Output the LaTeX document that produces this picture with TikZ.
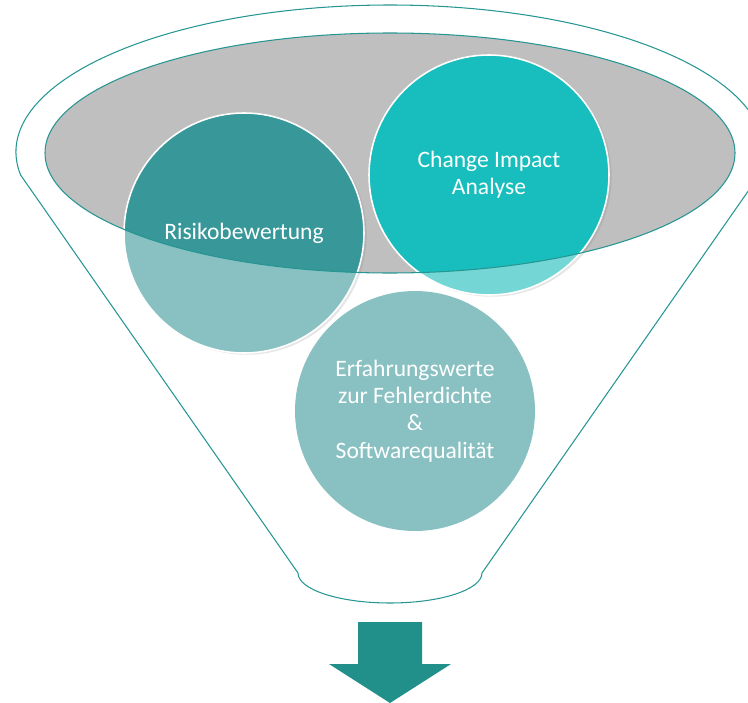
\documentclass[tikz,border=0pt]{standalone}
\usepackage{fontspec}
\setmainfont{Carlito}
\usetikzlibrary{backgrounds,shadows}

\definecolor{funnelline}{RGB}{38,150,147}
\definecolor{traygray}{RGB}{191,191,191}
\definecolor{riskdark}{RGB}{56,152,153}
\definecolor{risklight}{RGB}{137,193,194}
\definecolor{changedark}{RGB}{23,190,189}
\definecolor{changelight}{RGB}{116,215,214}
\definecolor{arrowteal}{RGB}{33,143,138}

\tikzset{
  bubble/.style={circle, minimum size=4.8cm, inner sep=0pt, align=center, text=white,
    font=\fontsize{13.4}{15.6}\selectfont},
  rim/.style={draw=white, line width=0.9pt},
  funnel/.style={draw=funnelline, line width=0.6pt},
  softshadow/.style={drop shadow={shadow xshift=1.5pt, shadow yshift=-1pt, opacity=0.2}}
}

\begin{document}
\begin{tikzpicture}[x=0.02cm, y=-0.02cm]
      \useasboundingbox (0,0) rectangle (748,703);

      \node[bubble] (risk) at (244,233) {Risikobewertung};
      \node[bubble] (change) at (489,175) {Change Impact\\Analyse};
      \node[bubble] (erfahr) at (415,411) {Erfahrungswerte\\zur Fehlerdichte\\\&\\Softwarequalität};
      \coordinate (tray) at (390,153);

      \begin{pgfonlayer}{background}
        \clip (0,0) rectangle (748,703);
        \draw[funnel] (20.6,175) arc[start angle=171, end angle=369, x radius=374, y radius=147]
          -- (482,573) arc[start angle=0, end angle=180, x radius=92, y radius=30] -- cycle;
        \fill[traygray] (tray) ellipse[x radius=345, y radius=120];

        \fill[risklight, softshadow] (risk.center) circle[radius=2.4cm];
        \fill[changelight, softshadow] (change.center) circle[radius=2.4cm];
        \fill[risklight] (erfahr.center) circle[radius=2.4cm];
        \begin{scope}
          \clip (tray) ellipse[x radius=345, y radius=120];
          \fill[riskdark] (risk.center) circle[radius=2.4cm];
          \fill[changedark] (change.center) circle[radius=2.4cm];
        \end{scope}
        \draw[rim] (risk.center) circle[radius=2.4cm];
        \draw[rim] (change.center) circle[radius=2.4cm];
        \draw[funnel] (tray) ellipse[x radius=345, y radius=120];

        \fill[arrowteal] (358,622) -- (422,622) -- (422,664) -- (451,664) -- (390,703)
          -- (329,664) -- (358,664) -- cycle;
      \end{pgfonlayer}
\end{tikzpicture}
\end{document}
